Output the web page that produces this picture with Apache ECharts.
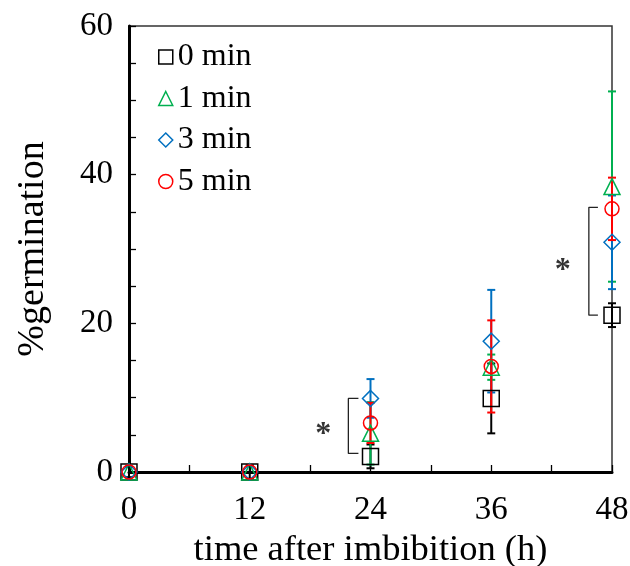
<!DOCTYPE html>
<html><head><meta charset="utf-8">
<script src="https://cdn.jsdelivr.net/npm/echarts@6/dist/echarts.min.js"></script>
<style>html,body{margin:0;padding:0;background:#fff}#c{width:630px;height:566px}</style>
</head><body><div id="c"></div>
<script>
const hours = [0, 12, 24, 36, 48];
const seriesNames = ['0 min', '1 min', '3 min', '5 min'];
const min0 = [0, 0, 2.1, 9.9, 21.1];
const min0Err = [0.7, 0.9, 1.6, 4.7, 1.6];
const min1 = [0, 0, 5.2, 14.1, 38.4];
const min1Err = [0, 0, 4.2, 1.7, 12.8];
const min3 = [0, 0, 9.9, 17.6, 30.9];
const min3Err = [0, 0, 2.6, 6.9, 6.3];
const min5 = [0, 0, 6.6, 14.2, 35.4];
const min5Err = [0, 0, 2.7, 6.2, 4.2];
const xTicks = [0, 12, 24, 36, 48];
const yTicks = [0, 20, 40, 60];
// significance brackets (data coordinates)
const bracket24 = [[22.8, 9.9], [21.8, 9.9], [21.8, 2.5], [22.8, 2.5]];
const bracket48 = [[46.6, 35.6], [45.7, 35.6], [45.7, 21.1], [46.6, 21.1]];
const stars = [[19.3, 5.9], [43.1, 28.0]];

const colors = ['#000000', '#00b050', '#0070c0', '#ff0000'];
const symbols = ['rect', 'triangle', 'diamond', 'circle'];
const sizes = [16, 16, 16, 14];
const vals = [min0, min1, min3, min5];
const errs = [min0Err, min1Err, min3Err, min5Err];

const font = 'Liberation Serif, Times New Roman, serif';
const chart = echarts.init(document.getElementById('c'), null, {renderer: 'canvas'});

const series = [];
vals.forEach((v, i) => {
  series.push({
    type: 'custom', name: seriesNames[i] + ' err', silent: true, z: 2 + i,
    data: hours.map((h, k) => [h, v[k] - errs[i][k], v[k] + errs[i][k]]).filter((d, k) => errs[i][k] > 0),
    renderItem: function (params, api) {
      const lo = api.coord([api.value(0), api.value(1)]);
      const hi = api.coord([api.value(0), api.value(2)]);
      const w = 4;
      const st = {stroke: colors[i], lineWidth: 2};
      return {type: 'group', children: [
        {type: 'line', shape: {x1: lo[0], y1: lo[1], x2: hi[0], y2: hi[1]}, style: st},
        {type: 'line', shape: {x1: lo[0] - w, y1: lo[1], x2: lo[0] + w, y2: lo[1]}, style: st},
        {type: 'line', shape: {x1: hi[0] - w, y1: hi[1], x2: hi[0] + w, y2: hi[1]}, style: st}
      ]};
    }
  });
});
vals.forEach((v, i) => {
  series.push({
    type: 'scatter', name: seriesNames[i], symbol: symbols[i], symbolSize: sizes[i], z: 10 + i,
    data: hours.map((h, k) => [h, v[k]]),
    itemStyle: {color: 'rgba(255,255,255,0)', borderColor: colors[i], borderWidth: 1.5, opacity: 1}
  });
});
[bracket24, bracket48].forEach(b => {
  series.push({
    type: 'line', data: b, symbol: 'none', silent: true, z: 5,
    lineStyle: {color: '#222', width: 1.3}
  });
});
series.push({
  type: 'scatter', data: stars, symbolSize: 1, silent: true,
  itemStyle: {color: 'rgba(0,0,0,0)'},
  label: {show: true, position: 'inside', formatter: '*', fontFamily: font, fontWeight: 'bold', fontSize: 32, color: '#000', offset: [0, 7]}
});

chart.setOption({
  animation: false,
  grid: {left: 129, right: 18, top: 26, bottom: 94, show: true, borderColor: '#333', borderWidth: 1.5,
    backgroundColor: 'transparent', containLabel: false, outerBoundsMode: 'none'},
  legend: {
    data: seriesNames.map((n, i) => ({name: n, icon: symbols[i]})),
    orient: 'vertical', left: 153, top: 36, itemWidth: 14, itemHeight: 14, itemGap: 9.5,
    textStyle: {fontFamily: font, fontSize: 32, color: '#000'},
    itemStyle: {borderWidth: 1.5}
  },
  xAxis: {
    type: 'value', min: 0, max: 48, interval: 6,
    name: 'time after imbibition (h)', nameLocation: 'middle', nameGap: 58,
    nameTextStyle: {fontFamily: font, fontSize: 36.5, color: '#000'},
    axisLine: {show: true, onZero: false, lineStyle: {color: '#000', width: 3}},
    axisTick: {show: true, inside: true, length: 7, lineStyle: {color: '#000', width: 1.3}},
    axisLabel: {fontFamily: font, fontSize: 33, color: '#000', margin: 22,
      formatter: v => xTicks.includes(v) ? String(v) : ''},
    splitLine: {show: false}
  },
  yAxis: {
    type: 'value', min: 0, max: 60, interval: 5,
    name: '%germination', nameLocation: 'middle', nameGap: 77, nameRotate: 90,
    nameTextStyle: {fontFamily: font, fontSize: 38, color: '#000'},
    axisLine: {show: true, onZero: false, lineStyle: {color: '#000', width: 3}},
    axisTick: {show: true, inside: true, length: 7, lineStyle: {color: '#000', width: 1.3}},
    axisLabel: {fontFamily: font, fontSize: 33, color: '#000', margin: 16,
      formatter: v => yTicks.includes(v) ? String(v) : ''},
    splitLine: {show: false}
  },
  series: series
});
</script></body></html>
